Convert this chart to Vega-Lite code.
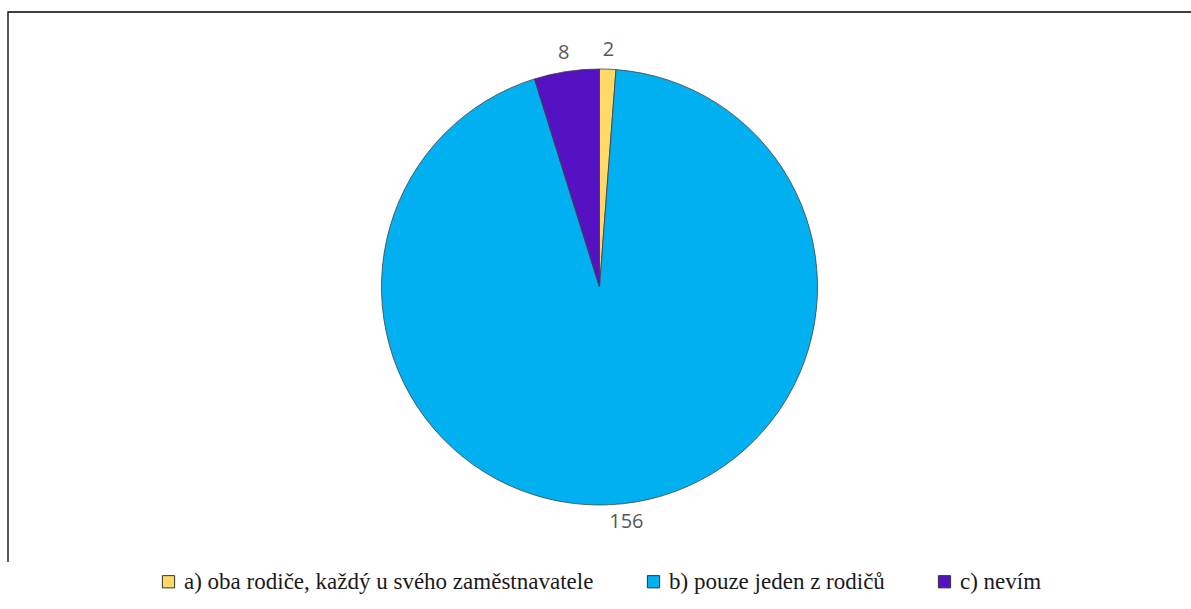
{
  "$schema": "https://vega.github.io/schema/vega-lite/v6.json",
  "autosize": {"type": "none"},
  "padding": {"left": 8, "top": 12, "right": 0, "bottom": 47},
  "width": 1183,
  "height": 550,
  "background": "white",
  "config": {
    "view": {"stroke": null},
    "legend": {"layout": {"bottom": {"anchor": "middle"}}, "labelFont": "Liberation Serif"}
  },
  "layer": [
    {
      "data": {"values": [{"ramec": 1}]},
      "mark": {"type": "rect", "fill": null, "fillOpacity": 0, "stroke": "#000000", "strokeWidth": 1.3, "strokeDash": [1183, 1733, 550, 10]},
      "encoding": {}
    },
    {
      "data": {
        "values": [
          {"kategorie": "a) oba rodiče, každý u svého zaměstnavatele", "pocet": 2},
          {"kategorie": "b) pouze jeden z rodičů", "pocet": 156},
          {"kategorie": "c) nevím", "pocet": 8}
        ]
      },
      "encoding": {
        "theta": {"field": "pocet", "type": "quantitative", "stack": true},
        "order": {"field": "kategorie", "type": "nominal"}
      },
      "layer": [
        {
          "mark": {"type": "arc", "radius": 218, "stroke": "#404040", "strokeWidth": 0.8},
          "encoding": {
            "color": {
              "field": "kategorie",
              "type": "nominal",
              "scale": {
                "domain": ["a) oba rodiče, každý u svého zaměstnavatele", "b) pouze jeden z rodičů", "c) nevím"],
                "range": ["#FFD966", "#00B0F0", "#5512C2"]
              },
              "legend": {
                "title": null,
                "orient": "bottom",
                "direction": "horizontal",
                "offset": 8,
                "symbolType": "square",
                "symbolSize": 150,
                "symbolStrokeColor": "#333333",
                "symbolStrokeWidth": 1,
                "labelFont": "Liberation Serif",
                "labelFontSize": 23,
                "labelFontWeight": "normal",
                "labelColor": "#1a1a1a",
                "labelLimit": 600,
                "columnPadding": 48,
                "symbolOffset": 0,
                "labelOffset": 4
              }
            }
          }
        },
        {
          "mark": {"type": "text", "radius": 237, "font": "Open Sans", "fontSize": 20, "color": "#595959"},
          "encoding": {
            "text": {"field": "pocet", "type": "quantitative"}
          }
        }
      ]
    }
  ]
}
